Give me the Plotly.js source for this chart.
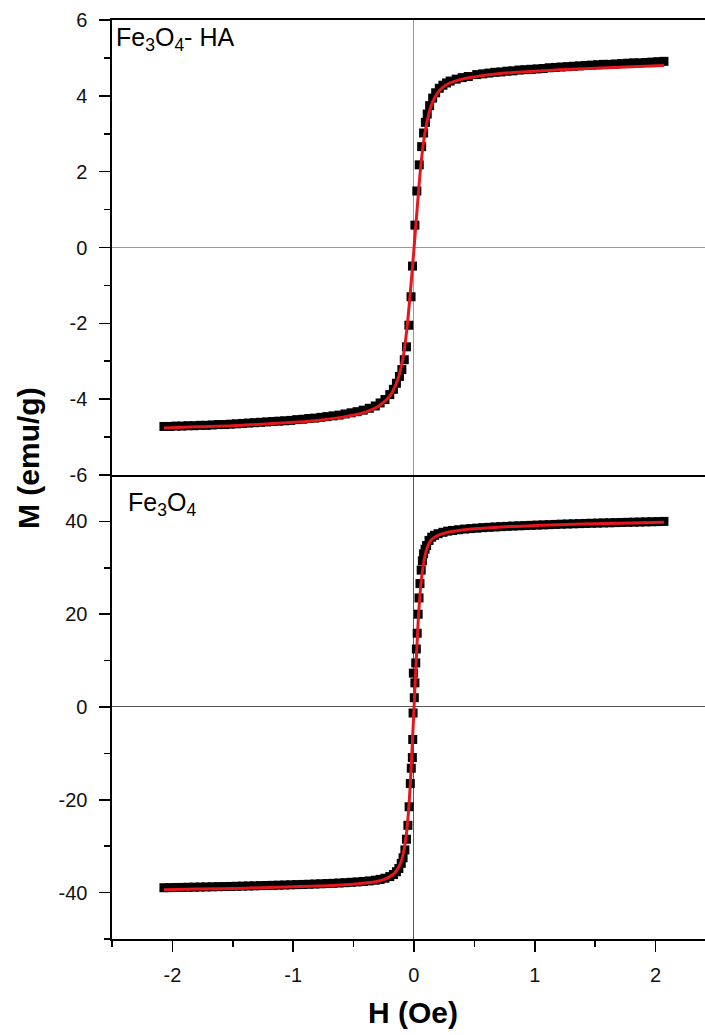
<!DOCTYPE html>
<html>
<head>
<meta charset="utf-8">
<script src="https://cdn.plot.ly/plotly-3.0.1.min.js"></script>
<style>html,body{margin:0;padding:0;background:#fff;}#chart{width:705px;height:1035px;}</style>
</head>
<body>
<div id="chart"></div>
<script>
// ---- Fe3O4-HA (top panel): measured points ----
const haH = [-2.07,-2.02,-1.97,-1.92,-1.87,-1.82,-1.77,-1.72,-1.67,-1.62,-1.57,-1.52,-1.47,-1.42,-1.37,-1.32,-1.27,-1.22,-1.17,-1.12,-1.07,-1.02,-0.97,-0.92,-0.87,-0.82,-0.77,-0.72,-0.67,-0.62,-0.57,-0.52,-0.47,-0.42,-0.37,-0.32,-0.28,-0.24,-0.2,-0.17,-0.145,-0.12,-0.1,-0.08,-0.062,-0.042,-0.024,-0.012,0.008,0.024,0.044,0.064,0.08,0.095,0.11,0.13,0.155,0.18,0.21,0.24,0.27,0.3,0.35,0.4,0.45,0.52,0.57,0.62,0.67,0.72,0.77,0.82,0.87,0.92,0.97,1.02,1.07,1.12,1.17,1.22,1.27,1.32,1.37,1.42,1.47,1.52,1.57,1.62,1.67,1.72,1.77,1.82,1.87,1.92,1.97,2.02,2.07];
const haM = [-4.72,-4.72,-4.71,-4.71,-4.70,-4.70,-4.69,-4.69,-4.68,-4.67,-4.67,-4.66,-4.65,-4.64,-4.63,-4.62,-4.61,-4.60,-4.59,-4.58,-4.57,-4.56,-4.54,-4.53,-4.51,-4.50,-4.48,-4.46,-4.44,-4.42,-4.39,-4.36,-4.33,-4.29,-4.24,-4.18,-4.10,-4.01,-3.88,-3.74,-3.58,-3.40,-3.22,-2.96,-2.62,-2.05,-1.30,-0.49,0.59,1.49,2.18,2.66,3.02,3.30,3.52,3.74,3.94,4.08,4.20,4.28,4.34,4.39,4.44,4.48,4.51,4.56,4.58,4.60,4.62,4.63,4.65,4.66,4.68,4.69,4.70,4.71,4.72,4.74,4.75,4.76,4.77,4.78,4.79,4.80,4.81,4.82,4.83,4.83,4.84,4.85,4.86,4.87,4.87,4.88,4.89,4.90,4.91];
// ---- Fe3O4-HA fit ----
const haFitH = [-2.07,-1.8,-1.5,-1.2,-1.0,-0.8,-0.6,-0.5,-0.4,-0.3,-0.25,-0.2,-0.15,-0.12,-0.09,-0.06,-0.04,-0.02,0,0.02,0.04,0.06,0.09,0.12,0.15,0.2,0.25,0.3,0.4,0.5,0.6,0.8,1.0,1.2,1.5,1.8,2.07];
const haFitM = [-4.76,-4.73,-4.70,-4.65,-4.61,-4.56,-4.48,-4.42,-4.34,-4.20,-4.08,-3.92,-3.62,-3.34,-2.90,-2.20,-1.55,-0.82,-0.05,0.75,1.55,2.25,3.00,3.48,3.80,4.10,4.25,4.34,4.44,4.50,4.55,4.61,4.65,4.69,4.73,4.77,4.80];

// ---- Fe3O4 (bottom panel): measured points ----
const feH = [-2.07,-2.02,-1.97,-1.92,-1.87,-1.82,-1.77,-1.72,-1.67,-1.62,-1.57,-1.52,-1.47,-1.42,-1.37,-1.32,-1.27,-1.22,-1.17,-1.12,-1.07,-1.02,-0.97,-0.92,-0.87,-0.82,-0.77,-0.72,-0.67,-0.62,-0.57,-0.52,-0.47,-0.42,-0.37,-0.32,-0.28,-0.24,-0.2,-0.17,-0.145,-0.125,-0.105,-0.09,-0.075,-0.062,-0.05,-0.04,-0.03,-0.022,-0.013,-0.01,-0.007,-0.005,0.003,0.008,0.015,0.02,0.027,0.035,0.042,0.05,0.06,0.07,0.08,0.092,0.105,0.125,0.147,0.17,0.2,0.24,0.28,0.32,0.37,0.42,0.47,0.52,0.57,0.62,0.67,0.72,0.77,0.82,0.87,0.92,0.97,1.02,1.07,1.12,1.17,1.22,1.27,1.32,1.37,1.42,1.47,1.52,1.57,1.62,1.67,1.72,1.77,1.82,1.87,1.92,1.97,2.02,2.07];
const feM = [-38.95,-38.93,-38.9,-38.88,-38.85,-38.83,-38.8,-38.78,-38.75,-38.72,-38.7,-38.67,-38.64,-38.6,-38.57,-38.54,-38.5,-38.47,-38.43,-38.4,-38.36,-38.32,-38.28,-38.24,-38.2,-38.15,-38.1,-38.05,-38.0,-37.93,-37.86,-37.78,-37.7,-37.6,-37.48,-37.33,-37.15,-36.9,-36.55,-36.1,-35.5,-34.8,-33.7,-32.5,-30.8,-28.5,-25.5,-21.5,-16.5,-13.2,-10.9,-7.0,-1.3,7.3,2.0,5.2,9.5,12.5,15.9,20.0,23.5,26.6,29.5,31.5,33.0,34.0,34.8,35.9,36.6,37.0,37.35,37.65,37.9,38.05,38.2,38.35,38.45,38.55,38.65,38.72,38.8,38.87,38.93,39.0,39.05,39.1,39.15,39.2,39.25,39.3,39.35,39.4,39.44,39.48,39.52,39.56,39.6,39.63,39.67,39.7,39.74,39.77,39.8,39.83,39.86,39.9,39.93,39.96,40.0];
// ---- Fe3O4 fit ----
const feFitH = [-2.07,-1.8,-1.5,-1.2,-1.0,-0.8,-0.6,-0.5,-0.4,-0.3,-0.25,-0.2,-0.15,-0.12,-0.1,-0.08,-0.06,-0.04,-0.02,0,0.02,0.04,0.06,0.08,0.1,0.12,0.15,0.2,0.25,0.3,0.4,0.5,0.6,0.8,1.0,1.2,1.5,1.8,2.07];
const feFitM = [-39.4,-39.25,-39.1,-38.9,-38.75,-38.6,-38.35,-38.2,-37.95,-37.55,-37.2,-36.6,-35.5,-34.2,-32.8,-30.5,-26.8,-20.8,-11.5,-0.5,10.5,20.5,27.0,31.0,33.5,35.0,36.2,37.0,37.45,37.75,38.15,38.4,38.6,38.9,39.1,39.3,39.5,39.65,39.8];

// ---- ticks ----
const xTickVals = [-2,-1,0,1,2];
const xTickText = ['-2','-1','0','1','2'];
const xMinorVals = [-2.5,-1.5,-0.5,0.5,1.5];
const topTickVals = [-6,-4,-2,0,2,4,6];
const topTickText = ['-6','-4','-2','0','2','4','6'];
const topMinorVals = [-5,-3,-1,1,3,5];
const botTickVals = [-40,-20,0,20,40];
const botTickText = ['-40','-20','0','20','40'];
const botMinorVals = [-50,-30,-10,10,30];

const FONT = 'Liberation Sans, Arial, sans-serif';
const split = 0.5049;

const markerStyle = {symbol:'square', size:9, color:'#000'};
const fitLine = {color:'#e3171d', width:3, shape:'spline'};

const traces = [
  {x:haH, y:haM, xaxis:'x2', yaxis:'y', mode:'markers', marker:markerStyle, hoverinfo:'skip'},
  {x:haFitH, y:haFitM, xaxis:'x2', yaxis:'y', mode:'lines', line:fitLine, hoverinfo:'skip'},
  {x:feH, y:feM, xaxis:'x', yaxis:'y2', mode:'markers', marker:markerStyle, hoverinfo:'skip'},
  {x:feFitH, y:feFitM, xaxis:'x', yaxis:'y2', mode:'lines', line:fitLine, hoverinfo:'skip'}
];

const axisCommon = {
  showgrid:false, showline:true, linecolor:'#000', linewidth:1.6,
  ticks:'outside', ticklen:11, tickwidth:1.6, tickcolor:'#000',
  tickfont:{family:FONT, size:20, color:'#111'}, zeroline:true, zerolinewidth:1
};

const layout = {
  width:705, height:1035,
  margin:{l:112, r:0, t:20, b:96},
  paper_bgcolor:'#fff', plot_bgcolor:'#fff',
  showlegend:false,
  font:{family:FONT, color:'#000'},
  xaxis: Object.assign({}, axisCommon, {
    anchor:'y2', domain:[0,1], range:[-2.5,2.41],
    tickmode:'array', tickvals:xTickVals, ticktext:xTickText,
    minor:{tickmode:'array', tickvals:xMinorVals, ticks:'outside', ticklen:6, tickwidth:1.6, tickcolor:'#000'},
    zerolinecolor:'#555', ticklabelstandoff:6
  }),
  xaxis2: Object.assign({}, axisCommon, {
    anchor:'y', domain:[0,1], range:[-2.5,2.41], matches:'x',
    ticks:'', showticklabels:false, mirror:true,
    zerolinecolor:'#999'
  }),
  yaxis: Object.assign({}, axisCommon, {
    anchor:'x2', domain:[split,1], range:[-6,6],
    tickmode:'array', tickvals:topTickVals, ticktext:topTickText,
    minor:{tickmode:'array', tickvals:topMinorVals, ticks:'outside', ticklen:6, tickwidth:1.6, tickcolor:'#000'},
    zerolinecolor:'#999', ticklabelstandoff:8
  }),
  yaxis2: Object.assign({}, axisCommon, {
    anchor:'x', domain:[0,split], range:[-50,50],
    tickmode:'array', tickvals:botTickVals, ticktext:botTickText,
    minor:{tickmode:'array', tickvals:botMinorVals, ticks:'outside', ticklen:6, tickwidth:1.6, tickcolor:'#000'},
    zerolinecolor:'#555', ticklabelstandoff:8
  }),
  annotations:[
    {xref:'paper', yref:'paper', x:0.004, y:0.999, xanchor:'left', yanchor:'top', showarrow:false,
     text:'Fe<sub>3</sub>O<sub>4</sub>- HA', font:{family:FONT, size:25, color:'#000'}},
    {xref:'paper', yref:'paper', x:0.024, y:0.4925, xanchor:'left', yanchor:'top', showarrow:false,
     text:'Fe<sub>3</sub>O<sub>4</sub>', font:{family:FONT, size:25, color:'#000'}},
    {xref:'paper', yref:'paper', x:-0.14, y:0.5234, xanchor:'center', yanchor:'middle', showarrow:false,
     textangle:-90, text:'<b>M (emu/g)</b>', font:{family:FONT, size:30, color:'#000'}},
    {xref:'paper', yref:'paper', x:0.5076, y:-0.0805, xanchor:'center', yanchor:'middle', showarrow:false,
     text:'<b>H (Oe)</b>', font:{family:FONT, size:30, color:'#000'}}
  ]
};

Plotly.newPlot('chart', traces, layout, {staticPlot:true, displayModeBar:false});
</script>
</body>
</html>
